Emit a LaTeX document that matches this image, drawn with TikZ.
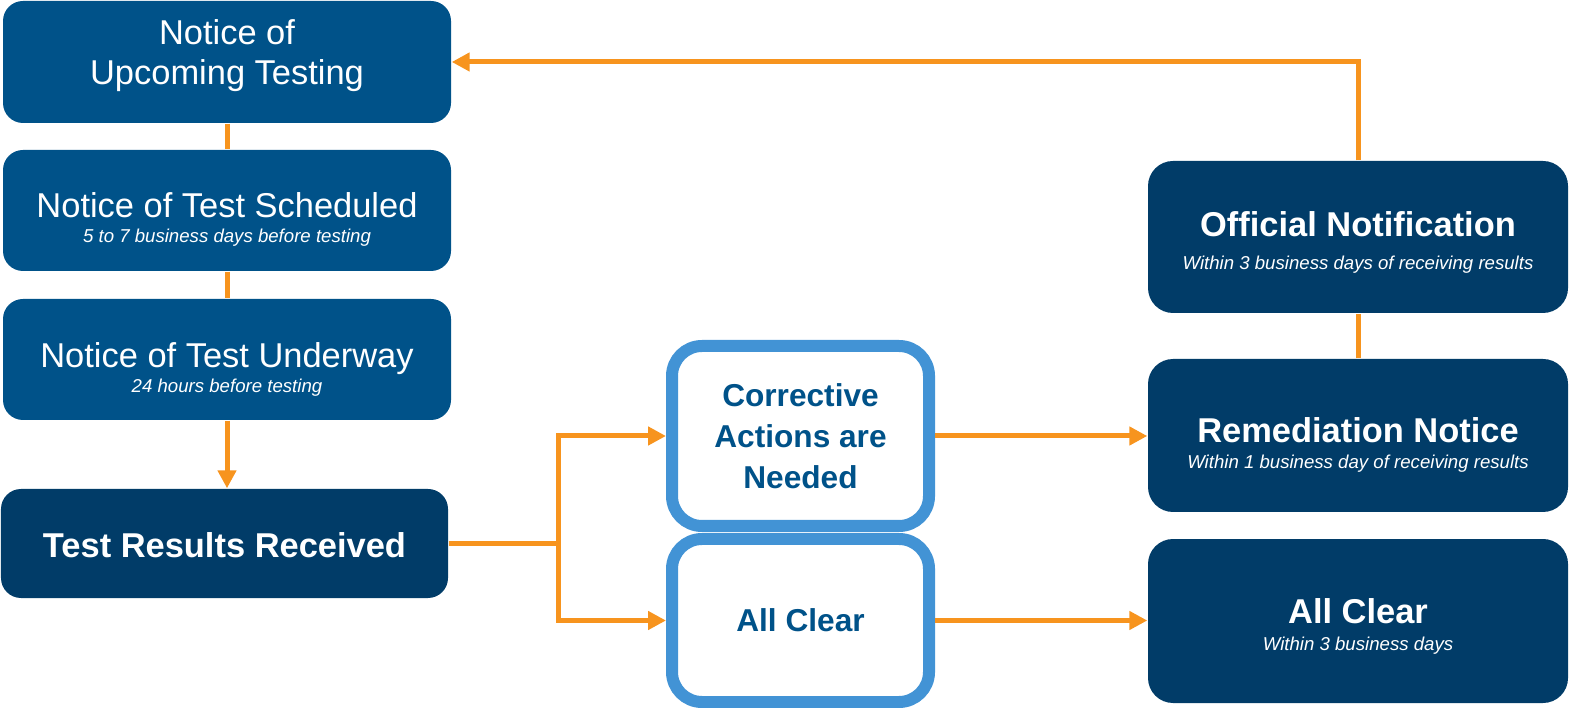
\documentclass[tikz,border=0pt]{standalone}
\usepackage{fontspec}
\setmainfont{Liberation Sans}
\usetikzlibrary{positioning,calc,arrows.meta}
\definecolor{notec}{RGB}{0,82,137}
\definecolor{darkc}{RGB}{1,60,104}
\definecolor{edgec}{RGB}{66,147,213}
\definecolor{arrc}{RGB}{247,148,30}
\newcommand{\when}[1]{{\fontsize{5.3}{6.5}\selectfont\itshape #1}}
\newcommand{\padtop}[1]{\rule{0pt}{#1}}
\newcommand{\padbot}[1]{\rule[-#1]{0pt}{0pt}}

\begin{document}
\begin{tikzpicture}
\tikzstyle{notebox}=[fill=notec,text=white,rounded corners=0.2cm,minimum width=4.48cm,inner sep=0pt,align=center,font=\fontsize{9.8}{11.4}\selectfont];
\tikzstyle{darkbox}=[fill=darkc,text=white,rounded corners=0.25cm,minimum width=4.2cm,inner sep=0pt,align=center,font=\fontsize{9.8}{11.4}\selectfont\bfseries];
\tikzstyle{checkbox}=[draw=edgec,line width=0.12cm,fill=white,text=notec,rounded corners=0.3cm,minimum width=2.57cm,inner sep=0pt,align=center,font=\fontsize{9}{11.7}\selectfont\bfseries];
\tikzstyle{flow}=[draw=arrc,line width=0.05cm];
\tikzstyle{tip}=[-{Triangle[length=0.18cm,width=0.18cm]}];

\useasboundingbox (0,0) rectangle (15.71,-7.08);

\begin{scope}
        % left column
        \node[notebox,minimum height=1.22cm] (upcoming) at (2.27,-0.62) {Notice of\\Upcoming Testing\padbot{5.5pt}};
        \node[notebox,minimum height=1.21cm] (scheduled) at (2.27,-2.105) {\padtop{12.2pt}Notice of Test Scheduled\\[-4.2pt]\when{5 to 7 business days before testing}};
        \node[notebox,minimum height=1.21cm] (underway) at (2.27,-3.595) {\padtop{12.8pt}Notice of Test Underway\\[-4.2pt]\when{24 hours before testing}};
        \node[notebox,fill=darkc,font=\fontsize{9.8}{11.4}\selectfont\bfseries,minimum width=4.47cm,minimum height=1.09cm] (received) at (2.245,-5.435) {\padtop{7.8pt}Test Results Received};

        % middle column
        \node[checkbox,minimum height=1.80cm] (corrective) at (8.005,-4.36) {Corrective\\Actions are\\Needed};
        \node[checkbox,minimum height=1.63cm] (clearmid) at (8.005,-6.205) {All Clear};

        % right column
        \node[darkbox,minimum height=1.52cm] (official) at (13.58,-2.37) {\padtop{10pt}Official Notification\\[-2pt]\when{\mdseries Within 3 business days of receiving results}};
        \node[darkbox,minimum height=1.53cm] (remediation) at (13.58,-4.355) {\padtop{12.2pt}Remediation Notice\\[-4pt]\when{\mdseries Within 1 business day of receiving results}};
        \node[darkbox,minimum height=1.64cm] (clearright) at (13.58,-6.21) {\padtop{10pt}All Clear\\[-3.7pt]\when{\mdseries Within 3 business days}};

        \coordinate[right=1.1cm of received.east] (fork);

        \draw[flow] (upcoming.south) -- (scheduled.north);
        \draw[flow] (scheduled.south) -- (underway.north);
        \draw[flow,tip] (underway.south) -- (underway.south |- received.north);
        \draw[flow] (received.east) -- (fork);
        \draw[flow,tip] (fork) |- (corrective.west);
        \draw[flow,tip] (fork) |- (clearmid.west);
        \draw[flow,tip] (corrective.east) -- (corrective.east -| remediation.west);
        \draw[flow,tip] (clearmid.east) -- (clearmid.east -| clearright.west);
        \draw[flow] (remediation.north) -- (official.south);
        \draw[flow,tip] (official.north) |- (upcoming.east);
\end{scope}

\end{tikzpicture}
\end{document}
